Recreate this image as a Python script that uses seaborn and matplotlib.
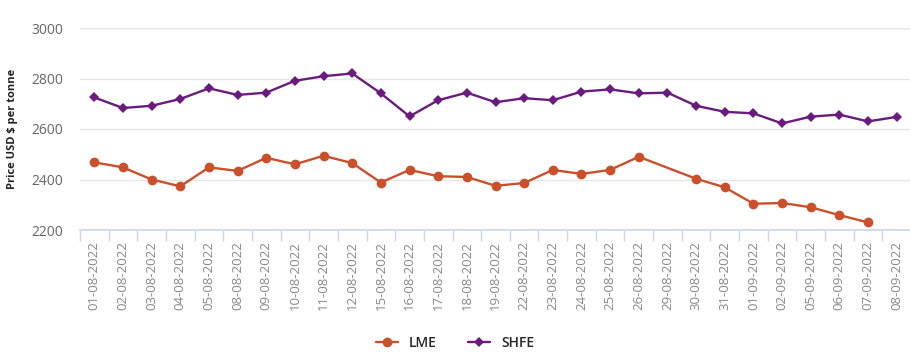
import numpy as np
import pandas as pd
import matplotlib
matplotlib.use("Agg")
import matplotlib.pyplot as plt
import seaborn as sns

# data
dates = ["01-08-2022", "02-08-2022", "03-08-2022", "04-08-2022", "05-08-2022",
         "08-08-2022", "09-08-2022", "10-08-2022", "11-08-2022", "12-08-2022",
         "15-08-2022", "16-08-2022", "17-08-2022", "18-08-2022", "19-08-2022",
         "22-08-2022", "23-08-2022", "24-08-2022", "25-08-2022", "26-08-2022",
         "29-08-2022", "30-08-2022", "31-08-2022", "01-09-2022", "02-09-2022",
         "05-09-2022", "06-09-2022", "07-09-2022", "08-09-2022"]

lme = [2468, 2448, 2400, 2373, 2448, 2434, 2486, 2460, 2494, 2465,
       2388, 2438, 2413, 2410, 2375, 2386, 2438, 2422, 2438, 2490,
       np.nan, 2403, 2369, 2304, 2307, 2290, 2259, 2230, np.nan]

shfe = [2725, 2683, 2692, 2719, 2761, 2735, 2744, 2791, 2809, 2820,
        2741, 2650, 2714, 2744, 2706, 2722, 2714, 2748, 2757, 2741,
        2744, 2692, 2668, 2662, 2622, 2649, 2657, 2630, 2648]

colors = {"LME": "#c9502b", "SHFE": "#6a1b7d"}

df = pd.DataFrame({"idx": range(len(dates)), "LME": lme, "SHFE": shfe})
long_df = df.melt(id_vars="idx", var_name="Exchange", value_name="Price").dropna()

sns.set_style("white")
plt.rcParams["font.family"] = ["Open Sans", "DejaVu Sans"]

fig = plt.figure(figsize=(9.1, 3.64), dpi=100)
ax = fig.add_axes([80 / 910, 1 - 230 / 364, 831 / 910, 202 / 364])

sns.lineplot(data=long_df, x="idx", y="Price", hue="Exchange", style="Exchange",
             palette=colors, markers={"LME": "o", "SHFE": "D"}, dashes=False,
             linewidth=1.7, markersize=7, markeredgewidth=0, ax=ax)

# diamonds a bit smaller than circles
for line in ax.get_lines():
    if line.get_marker() == "D":
        line.set_markersize(5.5)

ax.set_ylim(2200, 3000)
ax.set_yticks([2200, 2400, 2600, 2800, 3000])
ax.set_xlim(-0.5, len(dates) - 0.5)
ax.set_xticks(range(len(dates)))
ax.set_xticklabels(dates, rotation=90, color="#888888", fontsize=9.5)
ax.set_xticks(np.arange(len(dates) + 1) - 0.5, minor=True)
ax.tick_params(axis="x", which="major", bottom=False, length=0, pad=8)
ax.tick_params(axis="x", which="minor", bottom=True, length=8, color="#ccd6eb", width=1)
ax.tick_params(axis="y", length=0, labelsize=10, labelcolor="#666666", pad=12)

ax.grid(axis="y", color="#e6e6e6", linewidth=1)
ax.set_axisbelow(True)
for s in ["top", "right", "left"]:
    ax.spines[s].set_visible(False)
ax.spines["bottom"].set_color("#ccd6eb")
ax.spines["bottom"].set_linewidth(1.2)

ax.set_xlabel("")
ax.set_ylabel("Price USD $ per tonne", fontsize=8, fontweight="bold", color="#222222", labelpad=10)

handles, labels = ax.get_legend_handles_labels()
ax.get_legend().remove()
fig.legend(handles, labels, loc="center", bbox_to_anchor=(0.5, 1 - 343 / 364), ncol=2,
           frameon=False, handlelength=1.6, columnspacing=2.2,
           prop={"weight": "semibold", "size": 10})

fig.savefig("out.png", dpi=100)
